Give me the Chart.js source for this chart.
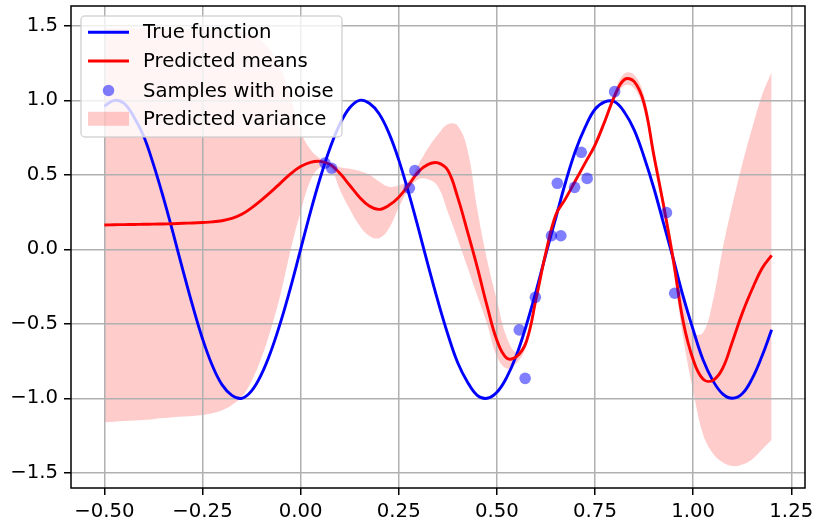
<!DOCTYPE html>
<html>
<head>
<meta charset="utf-8">
<script src="https://cdn.jsdelivr.net/npm/chart.js@4.4.0/dist/chart.umd.min.js"></script>
<style>
  html, body { margin: 0; padding: 0; background: #fff; }
  #wrap { width: 813px; height: 525px; }
</style>
</head>
<body>
<div id="wrap"><canvas id="gp" width="813" height="525"></canvas></div>
<script>
// x grid of the curves
const xs = [-0.5, -0.475, -0.45, -0.425, -0.4, -0.375, -0.35, -0.325, -0.3, -0.275,
    -0.25, -0.225, -0.2, -0.175, -0.15, -0.125, -0.1, -0.075, -0.05, -0.025,
    0, 0.025, 0.05, 0.075, 0.1, 0.125, 0.15, 0.175, 0.2, 0.225,
    0.25, 0.275, 0.3, 0.325, 0.35, 0.375, 0.4, 0.425, 0.45, 0.475,
    0.5, 0.525, 0.55, 0.575, 0.6, 0.625, 0.65, 0.675, 0.7, 0.725,
    0.75, 0.775, 0.8, 0.825, 0.85, 0.875, 0.9, 0.925, 0.95, 0.975,
    1, 1.025, 1.05, 1.075, 1.1, 1.125, 1.15, 1.175, 1.2];

const trueY = [0.96, 1.00, 0.98, 0.89, 0.76, 0.57, 0.35, 0.11, -0.14, -0.38,
    -0.60, -0.78, -0.91, -0.98, -1.00, -0.95, -0.84, -0.68, -0.48, -0.25,
    0.00, 0.25, 0.48, 0.68, 0.84, 0.95, 1.00, 0.98, 0.91, 0.78,
    0.60, 0.38, 0.14, -0.11, -0.35, -0.57, -0.76, -0.89, -0.98, -1.00,
    -0.96, -0.86, -0.71, -0.51, -0.28, -0.03, 0.21, 0.45, 0.66, 0.82,
    0.94, 0.99, 0.99, 0.92, 0.80, 0.62, 0.41, 0.17, -0.07, -0.32,
    -0.54, -0.74, -0.88, -0.97, -1.00, -0.97, -0.87, -0.72, -0.54];

const meanY = [0.163, 0.165, 0.166, 0.167, 0.168, 0.169, 0.170, 0.172, 0.175, 0.177,
    0.180, 0.184, 0.192, 0.207, 0.235, 0.278, 0.33, 0.387, 0.448, 0.508,
    0.555, 0.584, 0.59, 0.57, 0.51, 0.43, 0.35, 0.29, 0.268, 0.295,
    0.35, 0.43, 0.52, 0.57, 0.58, 0.53, 0.35, 0.12, -0.12, -0.38,
    -0.61, -0.73, -0.72, -0.62, -0.33, -0.02, 0.23, 0.34, 0.46, 0.58,
    0.70, 0.86, 1.03, 1.14, 1.125, 0.98, 0.63, 0.29, -0.08, -0.49,
    -0.74, -0.87, -0.88, -0.80, -0.62, -0.43, -0.27, -0.13, -0.04];

// edges of the variance band
const upperY = [1.486, 1.485, 1.484, 1.483, 1.482, 1.48, 1.479, 1.478, 1.477, 1.476,
    1.475, 1.473, 1.47, 1.467, 1.46, 1.44, 1.40, 1.33, 1.21, 1.02,
    0.79, 0.67, 0.61, 0.58, 0.55, 0.54, 0.525, 0.50, 0.455, 0.42,
    0.43, 0.46, 0.57, 0.68, 0.77, 0.84, 0.83, 0.67, 0.27, -0.07,
    -0.34, -0.59, -0.69, -0.59, -0.31, -0.005, 0.245, 0.355, 0.475, 0.595,
    0.72, 0.885, 1.06, 1.18, 1.17, 1.03, 0.68, 0.34, -0.01, -0.35,
    -0.56, -0.56, -0.35, 0.0, 0.30, 0.57, 0.81, 1.03, 1.19];

const lowerY = [-1.161, -1.157, -1.153, -1.149, -1.145, -1.14, -1.133, -1.127, -1.122, -1.118,
    -1.112, -1.10, -1.08, -1.045, -0.99, -0.885, -0.73, -0.53, -0.29, 0.0,
    0.25, 0.46, 0.55, 0.55, 0.40, 0.27, 0.16, 0.09, 0.075, 0.14,
    0.28, 0.40, 0.47, 0.47, 0.42, 0.25, 0.07, -0.12, -0.31, -0.50,
    -0.72, -0.80, -0.765, -0.65, -0.35, -0.035, 0.215, 0.325, 0.445, 0.565,
    0.68, 0.835, 1.00, 1.10, 1.08, 0.93, 0.58, 0.24, -0.15, -0.60,
    -0.95, -1.24, -1.369, -1.43, -1.455, -1.445, -1.41, -1.345, -1.28];

// noisy samples
const sampleX = [0.062, 0.079, 0.277, 0.291, 0.557, 0.572, 0.598, 0.639, 0.663, 0.654,
    0.698, 0.715, 0.730, 0.800, 0.932, 0.953];
const sampleY = [0.579, 0.544, 0.41, 0.528, -0.541, -0.866, -0.322, 0.091, 0.091, 0.443,
    0.416, 0.651, 0.476, 1.058, 0.246, -0.295];

const xTicks = [-0.5, -0.25, 0, 0.25, 0.5, 0.75, 1.0, 1.25];
const yTicks = [-1.5, -1.0, -0.5, 0, 0.5, 1.0, 1.5];

const FONT = 'DejaVu Sans';
const FSIZE = 19.7;
const minus = '\u2212';

const pts = ys => xs.map((x, i) => ({ x: x, y: ys[i] }));

function fmt(v, d) {
    return (v < 0 ? minus : '') + Math.abs(v).toFixed(d);
}

// spines on all four sides
const framePlugin = {
    id: 'frame',
    afterDatasetsDraw(chart) {
        const { ctx, chartArea: a } = chart;
        ctx.save();
        ctx.strokeStyle = '#000';
        ctx.lineWidth = 1.5;
        ctx.strokeRect(a.left, a.top, a.right - a.left, a.bottom - a.top);
        ctx.restore();
    }
};

// matplotlib-like legend inside the axes
const legendPlugin = {
    id: 'boxLegend',
    afterDraw(chart) {
        const ctx = chart.ctx;
        ctx.save();
        const bx = 81, by = 16, bw = 261, bh = 121, r = 4;
        ctx.beginPath();
        ctx.moveTo(bx + r, by);
        ctx.arcTo(bx + bw, by, bx + bw, by + bh, r);
        ctx.arcTo(bx + bw, by + bh, bx, by + bh, r);
        ctx.arcTo(bx, by + bh, bx, by, r);
        ctx.arcTo(bx, by, bx + bw, by, r);
        ctx.closePath();
        ctx.fillStyle = 'rgba(255,255,255,0.8)';
        ctx.fill();
        ctx.strokeStyle = 'rgba(204,204,204,0.8)';
        ctx.lineWidth = 1.5;
        ctx.stroke();

        const rows = [32.3, 61, 90.5, 118.8];
        const labels = ['True function', 'Predicted means', 'Samples with noise', 'Predicted variance'];

        ctx.lineWidth = 2.9;
        ctx.strokeStyle = 'blue';
        ctx.beginPath(); ctx.moveTo(88, rows[0]); ctx.lineTo(129, rows[0]); ctx.stroke();
        ctx.strokeStyle = 'red';
        ctx.beginPath(); ctx.moveTo(88, rows[1]); ctx.lineTo(129, rows[1]); ctx.stroke();
        ctx.fillStyle = 'rgba(0,0,255,0.5)';
        ctx.beginPath(); ctx.arc(108.5, rows[2], 5.8, 0, Math.PI * 2); ctx.fill();
        ctx.fillStyle = 'rgba(255,0,0,0.2)';
        ctx.fillRect(88, rows[3] - 7, 41, 14);

        ctx.fillStyle = '#000';
        ctx.font = FSIZE + 'px "' + FONT + '"';
        ctx.textBaseline = 'middle';
        ctx.textAlign = 'left';
        labels.forEach((t, i) => ctx.fillText(t, 143, rows[i] + 1));
        ctx.restore();
    }
};

new Chart(document.getElementById('gp'), {
    type: 'line',
    data: {
        datasets: [
            {
                label: 'Predicted variance',
                data: pts(upperY),
                borderWidth: 0,
                pointRadius: 0,
                backgroundColor: 'rgba(255,0,0,0.2)',
                fill: '+1',
                tension: 0.4,
                order: 3
            },
            {
                label: 'lower',
                data: pts(lowerY),
                borderWidth: 0,
                pointRadius: 0,
                fill: false,
                tension: 0.4,
                order: 4
            },
            {
                label: 'True function',
                data: pts(trueY),
                borderColor: 'blue',
                borderWidth: 2.9,
                pointRadius: 0,
                fill: false,
                tension: 0.4,
                order: 2
            },
            {
                label: 'Predicted means',
                data: pts(meanY),
                borderColor: 'red',
                borderWidth: 2.9,
                pointRadius: 0,
                fill: false,
                tension: 0.4,
                order: 1
            },
            {
                type: 'scatter',
                label: 'Samples with noise',
                data: sampleX.map((x, i) => ({ x: x, y: sampleY[i] })),
                backgroundColor: 'rgba(0,0,255,0.5)',
                borderWidth: 0,
                pointRadius: 5.8,
                order: 0
            }
        ]
    },
    options: {
        responsive: false,
        animation: false,
        events: [],
        layout: { padding: { left: 0, top: 6, right: 8, bottom: 0 } },
        plugins: {
            legend: { display: false },
            tooltip: { enabled: false },
            filler: { drawTime: 'beforeDraw' }
        },
        scales: {
            x: {
                type: 'linear',
                min: -0.585,
                max: 1.285,
                afterBuildTicks: s => { s.ticks = xTicks.map(v => ({ value: v })); },
                afterFit: s => { s.height = 37; s.paddingLeft = 0; s.paddingRight = 0; },
                border: { display: false },
                grid: { color: '#b0b0b0', lineWidth: 1.5, tickColor: '#000', tickWidth: 1.5, tickLength: 7 },
                ticks: {
                    color: '#000',
                    font: { family: FONT, size: FSIZE },
                    padding: 5,
                    maxRotation: 0,
                    autoSkip: false,
                    callback: v => fmt(v, 2)
                }
            },
            y: {
                min: -1.602,
                max: 1.633,
                afterBuildTicks: s => { s.ticks = yTicks.map(v => ({ value: v })); },
                afterFit: s => { s.width = 71; s.paddingTop = 0; s.paddingBottom = 0; },
                border: { display: false },
                grid: { color: '#b0b0b0', lineWidth: 1.5, tickColor: '#000', tickWidth: 1.5, tickLength: 7 },
                ticks: {
                    color: '#000',
                    font: { family: FONT, size: FSIZE },
                    padding: 6,
                    autoSkip: false,
                    callback: v => fmt(v, 1)
                }
            }
        }
    },
    plugins: [framePlugin, legendPlugin]
});
</script>
</body>
</html>
